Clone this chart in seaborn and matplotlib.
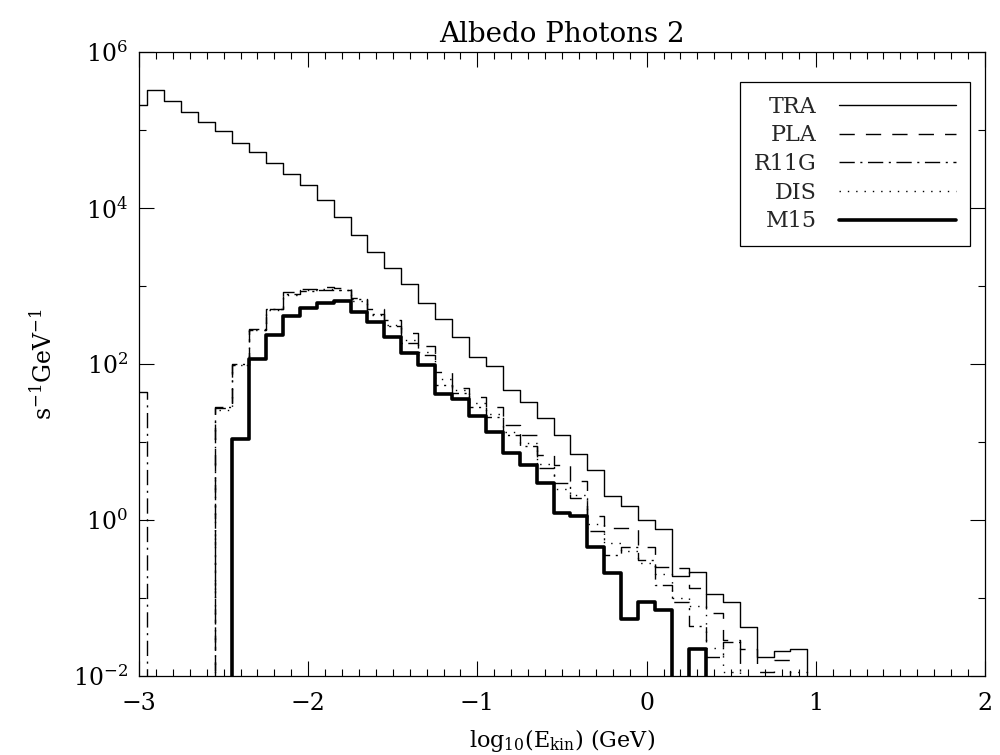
import numpy as np
import pandas as pd
import seaborn as sns
import matplotlib.pyplot as plt
import matplotlib.ticker as mticker

# bin centres of log10(E_kin), 0.1 wide
x_centers = np.round(np.arange(-3.0, 2.0001, 0.1), 1)

# log10 of the rates, None = empty bin
tra_log = [5.32, 5.51, 5.37, 5.23, 5.10, 4.98, 4.83, 4.71, 4.57, 4.43,
           4.29, 4.10, 3.88, 3.65, 3.43, 3.23, 3.02, 2.78, 2.57, 2.34,
           2.09, 1.97, 1.66, 1.51, 1.30, 1.08, 0.84, 0.64, 0.30, 0.18,
           0.00, -0.12, -0.72, -0.67, -0.95, -1.05, -1.37, -1.76, -1.68, -1.66,
           None, None, None, None, None, None, None, None, None, None, None]
pla_log = [None, None, None, None, None, 1.43, 1.99, 2.43, 2.70, 2.92,
           2.96, 2.98, 2.97, 2.84, 2.70, 2.56, 2.40, 2.23, 1.90, 1.69,
           1.57, 1.45, 1.22, 1.09, 0.83, 0.70, 0.50, 0.05, -0.11, -0.11,
           -0.35, -0.60, -0.62, -0.88, -1.20, -1.54, -1.66, -1.95, -1.80, None,
           None, None, None, None, None, None, None, None, None, None, None]
r11g_log = [1.64, None, None, None, None, 1.45, 2.00, 2.44, 2.70, 2.90,
            2.93, 2.95, 2.95, 2.83, 2.64, 2.48, 2.26, 2.11, 1.73, 1.63,
            1.45, 1.32, 1.09, 0.94, 0.66, 0.47, 0.28, -0.15, -0.45, -0.35,
            -0.52, -0.84, -1.05, -1.36, -1.76, -1.57, None, None, None, None,
            None, None, None, None, None, None, None, None, None, None, None]
dis_log = [None, None, None, None, None, 1.41, 1.98, 2.43, 2.69, 2.88,
           2.94, 2.96, 2.94, 2.81, 2.62, 2.50, 2.30, 2.15, 1.80, 1.66,
           1.50, 1.36, 1.12, 0.98, 0.72, 0.40, 0.32, -0.05, -0.30, -0.40,
           -0.56, -0.70, -1.00, -1.10, -1.65, -1.95, None, None, None, -1.95,
           None, None, None, None, None, None, None, None, None, None, None]
m15_log = [None, None, None, None, None, None, 1.04, 2.06, 2.37, 2.61,
           2.71, 2.78, 2.81, 2.66, 2.53, 2.34, 2.14, 1.99, 1.61, 1.55,
           1.33, 1.12, 0.86, 0.70, 0.47, 0.08, 0.05, -0.35, -0.68, -1.27,
           -1.06, -1.16, None, -1.66, None, None, None, None, None, None,
           None, None, None, None, None, None, None, None, None, None, None]

series_names = ["TRA", "PLA", "R11G", "DIS", "M15"]
series_logs = [tra_log, pla_log, r11g_log, dis_log, m15_log]
styles = {
    "TRA": dict(lw=1.0, ls="-"),
    "PLA": dict(lw=1.0, ls=(0, (11, 8))),
    "R11G": dict(lw=1.0, ls=(0, (11, 4, 1.5, 4))),
    "DIS": dict(lw=1.0, ls=(0, (1, 5))),
    "M15": dict(lw=2.6, ls="-"),
}


def to_rate(vals):
    # empty bins go far below the axis so the step drops off the plot
    return [1e-4 if v is None else 10.0 ** v for v in vals]


sns.set_theme(style="ticks")
plt.rcParams["font.family"] = ["DejaVu Serif"]
plt.rcParams["mathtext.fontset"] = "dejavuserif"

fig = plt.figure(figsize=(10, 7.55), dpi=100)
ax = fig.add_axes([0.139, 0.105, 0.846, 0.8265])

for name, vals in zip(series_names, series_logs):
    df = pd.DataFrame({"x": x_centers, "y": to_rate(vals)})
    st = styles[name]
    sns.lineplot(data=df, x="x", y="y", ax=ax, color="black", errorbar=None,
                 linewidth=st["lw"], linestyle=st["ls"], drawstyle="steps-mid",
                 label=name)

ax.set_yscale("log")
ax.set_xlim(-3, 2)
ax.set_ylim(1e-2, 1e6)

ax.xaxis.set_major_locator(mticker.FixedLocator([-3, -2, -1, 0, 1, 2]))
ax.xaxis.set_minor_locator(mticker.MultipleLocator(0.1))
ax.xaxis.set_major_formatter(mticker.FuncFormatter(lambda v, p: "%d" % v if v >= 0 else "\u2212%d" % -v))
ax.yaxis.set_major_locator(mticker.FixedLocator([1e-2, 1e0, 1e2, 1e4, 1e6]))
ax.yaxis.set_minor_locator(mticker.FixedLocator([1e-1, 1e1, 1e3, 1e5]))
ax.yaxis.set_major_formatter(mticker.FuncFormatter(lambda v, p: "$10^{%d}$" % round(np.log10(v))))
ax.yaxis.set_minor_formatter(mticker.NullFormatter())

ax.tick_params(which="both", direction="in", top=True, right=True, color="black",
               labelsize=17, width=0.8, labelcolor="black")
ax.tick_params(which="major", length=11)
ax.tick_params(axis="x", which="major", pad=12)
ax.tick_params(axis="y", which="major", pad=8)
ax.tick_params(which="minor", length=5)
for s in ax.spines.values():
    s.set_color("black")
    s.set_linewidth(0.9)

ax.set_title("Albedo Photons 2", fontsize=20, pad=7, color="black")
ax.set_xlabel(r"log$_{10}$(E$_{\rm kin}$) (GeV)", fontsize=16, labelpad=8, color="black")
ax.set_ylabel(r"s$^{-1}$GeV$^{-1}$", fontsize=17, labelpad=12, color="black")

leg = ax.legend(loc="upper right", bbox_to_anchor=(0.982, 0.951), borderaxespad=0,
                markerfirst=False, handlelength=5.3, fontsize=16, labelspacing=0.3,
                fancybox=False, framealpha=1, edgecolor="black", borderpad=0.6,
                handletextpad=1.0)
leg.get_frame().set_linewidth(0.9)

fig.savefig("out.png", dpi=100)
